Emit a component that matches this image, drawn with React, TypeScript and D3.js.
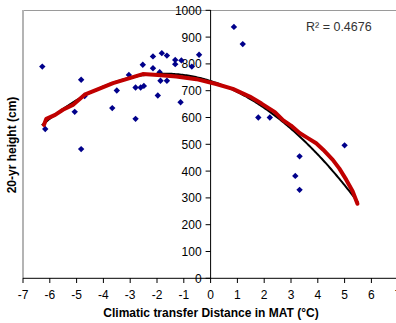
import React from "react";
import * as d3 from "d3";

const xs = [-6.28, -6.17, -5.07, -4.83, -4.83, -4.7, -3.67, -3.5, -3.05, -2.8, -2.8, -2.61, -2.49, -2.53, -2.15, -2.15, -1.97, -1.9, -1.87, -1.82, -1.63, -1.63, -1.32, -1.32, -1.09, -1.12, -0.7, -0.43, 0.87, 1.2, 1.78, 2.21, 3.32, 3.16, 3.32, 5.0];
const ys = [790, 557, 621, 741, 482, 680, 635, 701, 759, 595, 712, 712, 718, 797, 828, 784, 682, 769, 737, 840, 831, 737, 815, 799, 813, 657, 790, 834, 938, 874, 600, 600, 455, 382, 330, 496];

const redX = [-6.22, -6.13, -5.8, -5.51, -5.14, -4.7, -4.26, -3.64, -3.02, -2.53, -1.97, -1.28, -0.53, 0.21, 0.83, 1.46, 1.9, 2.4, 2.7, 3.0, 3.32, 3.6, 3.94, 4.2, 4.56, 4.8, 5.06, 5.3, 5.48];
const redY = [572, 595, 610, 629, 647, 685, 703, 728, 747, 762, 759, 753, 743, 725, 707, 678, 652, 620, 590, 570, 542, 525, 504, 480, 442, 410, 368, 325, 278];

const xTicks = [-7, -6, -5, -4, -3, -2, -1, 0, 1, 2, 3, 4, 5, 6, 7];
const yTicks = [0, 100, 200, 300, 400, 500, 600, 700, 800, 900, 1000];
const r2Label = "R² = 0.4676";
const xTitle = "Climatic transfer Distance in MAT (°C)";
const yTitle = "20-yr height (cm)";

function quadFit(x: number[], y: number[]) {
  // least squares y = c0 + c1 x + c2 x^2
  const n = x.length;
  let s = [0, 0, 0, 0, 0];
  let t = [0, 0, 0];
  for (let i = 0; i < n; i++) {
    let p = 1;
    for (let k = 0; k < 5; k++) {
      s[k] += p;
      if (k < 3) t[k] += p * y[i];
      p *= x[i];
    }
  }
  const A = [
    [s[0], s[1], s[2], t[0]],
    [s[1], s[2], s[3], t[1]],
    [s[2], s[3], s[4], t[2]],
  ];
  for (let i = 0; i < 3; i++) {
    for (let j = i + 1; j < 3; j++) {
      const f = A[j][i] / A[i][i];
      for (let k = i; k < 4; k++) A[j][k] -= f * A[i][k];
    }
  }
  const c = [0, 0, 0];
  for (let i = 2; i >= 0; i--) {
    let v = A[i][3];
    for (let k = i + 1; k < 3; k++) v -= A[i][k] * c[k];
    c[i] = v / A[i][i];
  }
  return c;
}

export default function App() {
  const W = 396, H = 323;
  const x = d3.scaleLinear().domain([-7, 7]).range([23, 398.2]);
  const y = d3.scaleLinear().domain([0, 1000]).range([278.3, 10.3]);
  const font = "'Liberation Sans', Arial, sans-serif";

  const c = quadFit(xs, ys);
  const trendPts = d3.range(-6.3, 5.5001, 0.05).map((v) => [v, c[0] + c[1] * v + c[2] * v * v] as [number, number]);
  const line = d3.line<[number, number]>().x((d) => x(d[0])).y((d) => y(d[1]));
  const redPts = redX.map((v, i) => [v, redY[i]] as [number, number]);
  const diamond = d3.symbol().type(d3.symbolDiamond2 || d3.symbolDiamond).size(26)();

  return (
    <svg width={W} height={H} style={{ position: "absolute", left: 0, top: 0, background: "#fff" }} fontFamily={font}>
      <rect x={0} y={0} width={W} height={H} fill="#fff" />
      {/* plot border */}
      <line x1={23} x2={W} y1={10.5} y2={10.5} stroke="#9a9a9a" strokeWidth={1} />
      <line x1={23} x2={23} y1={10} y2={278} stroke="#b4b4b4" strokeWidth={2} />
      {/* x axis */}
      <line x1={23} x2={W} y1={278.3} y2={278.3} stroke="#000" strokeWidth={1} />
      {xTicks.map((t) => (
        <g key={"xt" + t}>
          <line x1={x(t)} x2={x(t)} y1={278} y2={283} stroke="#000" />
          <text x={x(t)} y={298.5} fontSize={12} textAnchor="middle" fill="#000">{t}</text>
        </g>
      ))}
      {/* y axis */}
      <line x1={x(0)} x2={x(0)} y1={10} y2={278.5} stroke="#000" strokeWidth={1} />
      {yTicks.map((t) => (
        <g key={"yt" + t}>
          <line x1={x(0) - 5} x2={x(0)} y1={y(t)} y2={y(t)} stroke="#000" />
          <text x={x(0) - 9} y={y(t) + 4.5} fontSize={12} textAnchor="end" fill="#000">{t}</text>
        </g>
      ))}
      {/* points */}
      {xs.map((v, i) => (
        <path key={"p" + i} d={diamond} transform={`translate(${x(v)},${y(ys[i])})`} fill="#00008B" />
      ))}
      {/* trend lines */}
      <path d={line(trendPts) || ""} fill="none" stroke="#000" strokeWidth={2} />
      <path d={line(redPts) || ""} fill="none" stroke="#C00000" strokeWidth={4} strokeLinejoin="round" strokeLinecap="round" />
      <text x={306} y={31} fontSize={12.5} fill="#333">{r2Label}</text>
      <text x={211} y={317} fontSize={12} fontWeight="bold" textAnchor="middle" fill="#000">{xTitle}</text>
      <text transform="translate(16,145) rotate(-90)" fontSize={12} fontWeight="bold" textAnchor="middle" fill="#000">{yTitle}</text>
    </svg>
  );
}
